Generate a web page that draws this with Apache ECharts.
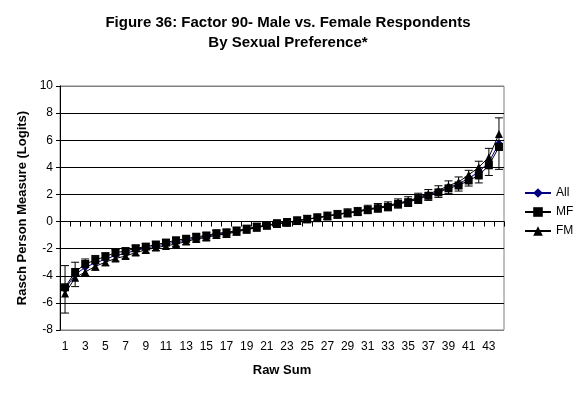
<!DOCTYPE html>
<html>
<head>
<meta charset="utf-8">
<script src="https://cdn.jsdelivr.net/npm/echarts@6/dist/echarts.min.js"></script>
<style>html,body{margin:0;padding:0;background:#fff}#c{width:576px;height:394px}</style>
</head>
<body>
<div id="c"></div>
<script>
var categories = [];
for (var i = 1; i <= 44; i++) categories.push(String(i));

var allValues = [-5.00,-3.90,-3.38,-3.05,-2.78,-2.50,-2.35,-2.12,-1.97,-1.80,
  -1.66,-1.50,-1.37,-1.20,-1.10,-0.93,-0.86,-0.71,-0.56,-0.41,
  -0.28,-0.16,-0.06,0.06,0.18,0.28,0.41,0.53,0.64,0.74,
  0.89,1.01,1.12,1.33,1.47,1.71,1.96,2.21,2.53,2.77,
  3.20,3.65,4.40,5.75];
var mfValues = [-4.85,-3.72,-3.13,-2.84,-2.58,-2.30,-2.18,-1.97,-1.85,-1.70,
  -1.55,-1.38,-1.27,-1.12,-1.03,-0.86,-0.80,-0.67,-0.53,-0.38,
  -0.26,-0.14,-0.05,0.07,0.19,0.28,0.40,0.52,0.62,0.71,
  0.86,0.98,1.08,1.30,1.43,1.66,1.90,2.15,2.45,2.66,
  3.03,3.40,4.15,5.50];
var fmValues = [-5.30,-4.15,-3.72,-3.30,-3.00,-2.72,-2.55,-2.28,-2.10,-1.92,
  -1.80,-1.65,-1.48,-1.28,-1.18,-1.00,-0.92,-0.75,-0.60,-0.45,
  -0.30,-0.18,-0.07,0.05,0.18,0.28,0.42,0.55,0.66,0.78,
  0.93,1.05,1.18,1.38,1.52,1.78,2.04,2.30,2.65,2.92,
  3.45,4.00,4.75,6.45];
var errorHalf = [1.75,0.90,0.62,0.55,0.48,0.42,0.40,0.37,0.35,0.34,
  0.33,0.32,0.31,0.30,0.30,0.29,0.29,0.29,0.28,0.28,
  0.28,0.28,0.28,0.28,0.28,0.29,0.29,0.29,0.30,0.30,
  0.31,0.32,0.33,0.34,0.36,0.38,0.40,0.43,0.47,0.52,
  0.58,0.80,1.00,1.90];
var yTicks = [-8,-6,-4,-2,0,2,4,6,8,10];

var FONT = '"Liberation Sans", Arial, sans-serif';
var errData = allValues.map(function (v, i) { return [i, v - errorHalf[i], v + errorHalf[i]]; });

var splitColors = yTicks.map(function (t, i) { return (i === 0 || i === yTicks.length - 1) ? '#808080' : '#000000'; });

var chart = echarts.init(document.getElementById('c'));
chart.setOption({
  animation: false,
  backgroundColor: '#ffffff',
  title: {
    text: 'Figure 36: Factor 90- Male vs. Female Respondents\nBy Sexual Preference*',
    left: 'center', top: 8,
    textStyle: { fontFamily: FONT, fontSize: 15, fontWeight: 'bold', color: '#000', lineHeight: 20 }
  },
  legend: {
    orient: 'vertical', left: 519, top: 182,
    itemWidth: 26, itemHeight: 12, itemGap: 7,
    textStyle: { fontFamily: FONT, fontSize: 12, color: '#000' },
    data: ['All', 'MF', 'FM']
  },
  grid: { left: 60, top: 86, width: 444, height: 244, show: true, borderColor: '#808080', borderWidth: 1, backgroundColor: '#fff' },
  xAxis: [{
    type: 'category', data: categories, position: 'bottom',
    axisLine: { show: false, onZero: false }, axisTick: { show: false },
    axisLabel: { interval: 1, margin: 11, fontFamily: FONT, fontSize: 12, color: '#000' },
    name: 'Raw Sum', nameLocation: 'middle', nameGap: 34,
    nameTextStyle: { fontFamily: FONT, fontSize: 13, fontWeight: 'bold', color: '#000' }
  }, {
    type: 'category', data: categories, position: 'top',
    axisLine: { show: true, onZero: true, lineStyle: { color: '#000', width: 1 } },
    axisTick: { show: true, inside: true, length: 5, interval: 0, lineStyle: { color: '#000' } },
    axisLabel: { show: false }, splitLine: { show: false }
  }],
  yAxis: {
    type: 'value', min: -8, max: 10, interval: 2,
    axisLine: { show: true, lineStyle: { color: '#000' } },
    axisTick: { show: true, length: 4, lineStyle: { color: '#000' } },
    axisLabel: { fontFamily: FONT, fontSize: 12, color: '#000', margin: 7 },
    splitLine: { show: true, lineStyle: { color: splitColors, width: 1 } },
    name: 'Rasch Person Measure (Logits)', nameLocation: 'middle', nameGap: 30,
    nameTextStyle: { fontFamily: FONT, fontSize: 13, fontWeight: 'bold', color: '#000' }
  },
  series: [{
    name: 'All', type: 'line', data: allValues, symbol: 'diamond', symbolSize: 8, showAllSymbol: true,
    itemStyle: { color: '#000080' }, lineStyle: { color: '#000080', width: 1 }, z: 3
  }, {
    name: 'MF', type: 'line', data: mfValues, symbol: 'rect', symbolSize: 8, showAllSymbol: true,
    itemStyle: { color: '#000' }, lineStyle: { color: '#000', width: 1 }, z: 4
  }, {
    name: 'FM', type: 'line', data: fmValues, symbol: 'triangle', symbolSize: 8, showAllSymbol: true,
    itemStyle: { color: '#000' }, lineStyle: { color: '#000', width: 1 }, z: 4
  }, {
    name: 'err', type: 'custom', data: errData, z: 5,
    renderItem: function (params, api) {
      var x = api.value(0);
      var lo = api.coord([x, api.value(1)]);
      var hi = api.coord([x, api.value(2)]);
      var w = 4;
      var st = { stroke: '#000', lineWidth: 1 };
      return { type: 'group', children: [
        { type: 'line', shape: { x1: lo[0], y1: lo[1], x2: hi[0], y2: hi[1] }, style: st },
        { type: 'line', shape: { x1: lo[0] - w, y1: lo[1], x2: lo[0] + w, y2: lo[1] }, style: st },
        { type: 'line', shape: { x1: hi[0] - w, y1: hi[1], x2: hi[0] + w, y2: hi[1] }, style: st }
      ]};
    }
  }]
});
</script>
</body>
</html>
